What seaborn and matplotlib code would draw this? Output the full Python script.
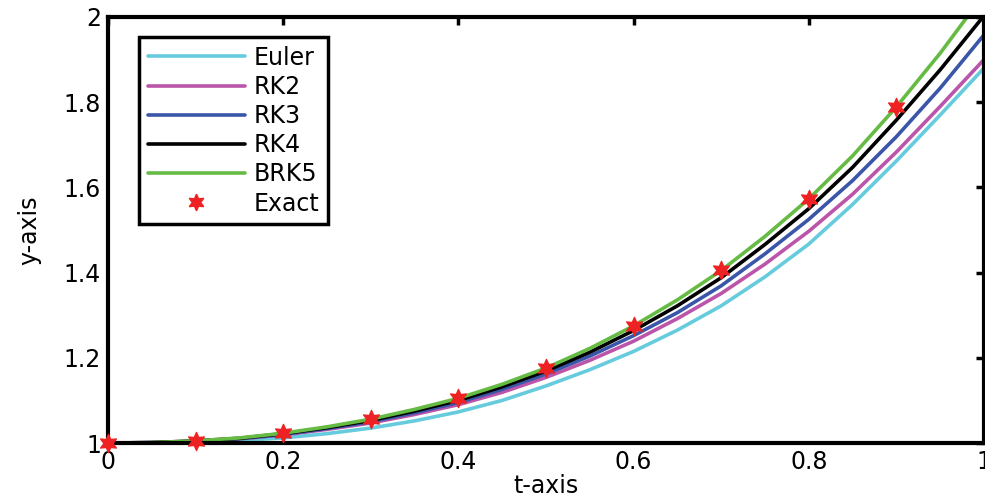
import numpy as np
import pandas as pd
import matplotlib
matplotlib.use("Agg")
import matplotlib.pyplot as plt
import seaborn as sns

# Solution values on the grid t = 0, 0.05, ..., 1
t = [0.00, 0.05, 0.10, 0.15, 0.20, 0.25, 0.30, 0.35, 0.40, 0.45, 0.50,
     0.55, 0.60, 0.65, 0.70, 0.75, 0.80, 0.85, 0.90, 0.95, 1.00]
euler = [1.000, 1.000, 1.002, 1.006, 1.012, 1.022, 1.035, 1.052, 1.073, 1.100, 1.134,
         1.172, 1.215, 1.265, 1.322, 1.390, 1.467, 1.560, 1.662, 1.770, 1.880]
rk2 = [1.000, 1.001, 1.004, 1.010, 1.019, 1.032, 1.047, 1.067, 1.090, 1.119, 1.154,
       1.194, 1.239, 1.292, 1.351, 1.420, 1.497, 1.584, 1.683, 1.790, 1.900]
rk3 = [1.000, 1.001, 1.004, 1.010, 1.020, 1.034, 1.050, 1.071, 1.095, 1.126, 1.162,
       1.204, 1.252, 1.306, 1.369, 1.444, 1.525, 1.616, 1.719, 1.833, 1.958]
rk4 = [1.000, 1.001, 1.005, 1.011, 1.022, 1.036, 1.053, 1.075, 1.100, 1.132, 1.169,
       1.213, 1.264, 1.322, 1.388, 1.466, 1.550, 1.647, 1.758, 1.876, 2.003]
brk5 = [1.000, 1.001, 1.005, 1.012, 1.023, 1.038, 1.056, 1.079, 1.105, 1.138, 1.176,
        1.222, 1.275, 1.336, 1.405, 1.485, 1.573, 1.674, 1.789, 1.915, 2.053]

# Exact solution at t = 0, 0.1, ..., 0.9
t_exact = [0.0, 0.1, 0.2, 0.3, 0.4, 0.5, 0.6, 0.7, 0.8, 0.9]
y_exact = [1.000, 1.005, 1.023, 1.056, 1.105, 1.176, 1.275, 1.405, 1.573, 1.789]

methods = ["Euler", "RK2", "RK3", "RK4", "BRK5"]
colors = ["#66CCDD", "#BB55AA", "#3A56A8", "#000000", "#66BB44"]
exact_color = "#EE2222"
fs = 17

sns.set_theme(style="white")
plt.rcParams["font.family"] = ["DejaVu Sans"]
plt.rcParams.update({"text.color": "black", "axes.labelcolor": "black",
                     "xtick.color": "black", "ytick.color": "black"})

frames = []
for name, vals in zip(methods, [euler, rk2, rk3, rk4, brk5]):
    frames.append(pd.DataFrame({"t": t, "y": vals, "method": name}))
df = pd.concat(frames, ignore_index=True)
exact_df = pd.DataFrame({"t": t_exact, "y": y_exact})

fig = plt.figure(figsize=(9.85, 4.98), dpi=100)
ax = fig.add_axes([0.1096, 0.1104, 0.8894, 0.8556])

sns.lineplot(data=df, x="t", y="y", hue="method", hue_order=methods,
             palette=dict(zip(methods, colors)), linewidth=2.6,
             legend=False, ax=ax, sort=False)
sns.scatterplot(data=exact_df, x="t", y="y", marker=(6, 1, 0), s=170,
                color=exact_color, edgecolor=exact_color, linewidth=1.0,
                ax=ax, zorder=5, legend=False, clip_on=False)

ax.set_xlim(0, 1)
ax.set_ylim(1, 2)
ax.set_xticks([0, 0.2, 0.4, 0.6, 0.8, 1])
ax.set_xticklabels(["0", "0.2", "0.4", "0.6", "0.8", "1"])
ax.set_yticks([1, 1.2, 1.4, 1.6, 1.8, 2])
ax.set_yticklabels(["1", "1.2", "1.4", "1.6", "1.8", "2"])
ax.tick_params(direction="in", length=6, width=2.5, top=True, right=True,
               labelsize=fs, colors="black", pad=5)
for sp in ax.spines.values():
    sp.set_linewidth(3)
    sp.set_color("black")
ax.set_xlabel("t-axis", fontsize=fs, labelpad=0)
ax.set_ylabel("y-axis", fontsize=fs, labelpad=16)

handles = [plt.Line2D([], [], color=c, lw=2.6) for c in colors]
handles.append(plt.Line2D([], [], color=exact_color, marker=(6, 1, 0),
                          markersize=12, linestyle="none"))
leg = ax.legend(handles, methods + ["Exact"], loc="upper left",
                bbox_to_anchor=(0.036, 0.952), borderaxespad=0,
                fontsize=fs, handlelength=4.1, handletextpad=0.4,
                labelspacing=0.22, borderpad=0.35, fancybox=False,
                framealpha=1, edgecolor="black")
leg.get_frame().set_linewidth(2.5)

fig.savefig("out.png", dpi=100)
